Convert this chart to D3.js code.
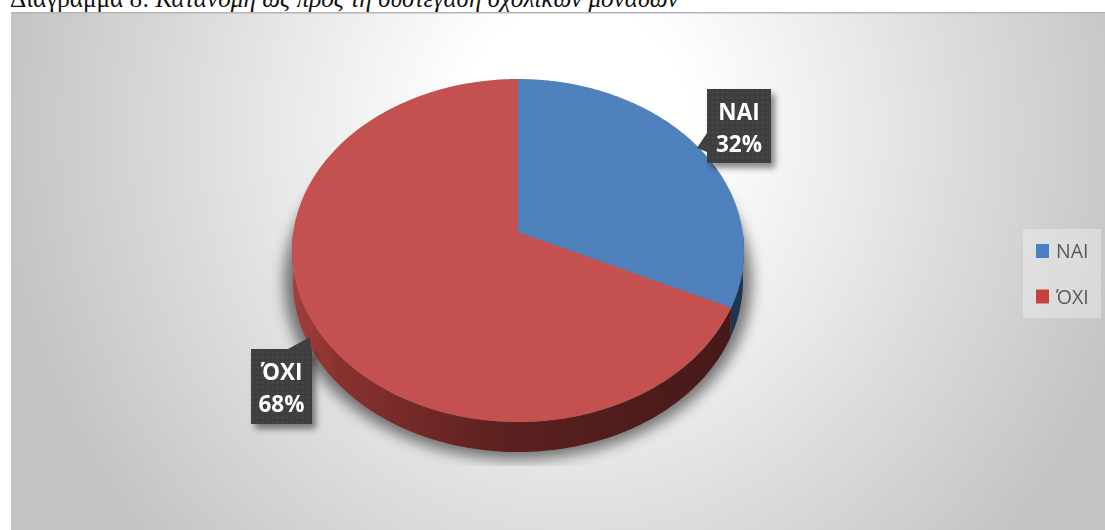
<!DOCTYPE html>
<html lang="el">
<head>
<meta charset="utf-8">
<script src="https://cdn.jsdelivr.net/npm/d3@7/dist/d3.min.js"></script>
<style>
html,body{margin:0;padding:0;background:#fff;overflow:hidden}
svg{display:block}
</style>
</head>
<body>
<svg id="chart" width="1105" height="530"></svg>
<script>
// Share of school units by co-housing status
const categories = ["ΝΑΙ", "ΌΧΙ"];
const shares = [32, 68];
const faceColors = ["#4f81bd", "#c4514f"];
const sideColors = ["#1d3550", "#6b2523"];
const captionLead = "Διάγραμμα 8: ";
const captionRest = "Κατανομή ως προς τη συστέγαση σχολικών μονάδων";

const svg = d3.select("#chart");
const defs = svg.append("defs");

// Tilted-disc projection: the pie's hub sits above the middle of the drawn ellipse
const hub = {x: 518, y: 232};
const R = 224.7, tilt = -0.108, squash = 169.5;
const project = (a, k = 1, dy = 0) => {
  const X = Math.sin(a), Y = -Math.cos(a), w = 1 + tilt * Y;
  return [hub.x + k * R * X / w, hub.y + dy + k * squash * Y / w];
};
const depth = 31, lowerScale = 0.995;

// Backdrop: bright towards the upper middle, greying off to the sides
const bg = defs.append("radialGradient").attr("id", "bg")
  .attr("gradientUnits", "userSpaceOnUse")
  .attr("cx", 0).attr("cy", 0).attr("r", 1)
  .attr("gradientTransform", "translate(575,130) scale(580,620)");
[[0.2, "#ffffff"], [0.5, "#e9e9e9"], [0.65, "#dddddd"], [1, "#c3c3c3"]].forEach(([o, c]) =>
  bg.append("stop").attr("offset", o).attr("stop-color", c));

const blur = (id, s) => defs.append("filter").attr("id", id)
  .attr("x", "-30%").attr("y", "-30%").attr("width", "160%").attr("height", "160%")
  .append("feGaussianBlur").attr("stdDeviation", s);
blur("pieShadow", 7);
blur("tagShadow", 3);
blur("soft", 0.35);

defs.append("clipPath").attr("id", "shadowClip").append("rect")
  .attr("x", 11).attr("y", 12).attr("width", 1094).attr("height", 454);

// Fine dot texture on the callouts
const dots = defs.append("pattern").attr("id", "dots").attr("patternUnits", "userSpaceOnUse")
  .attr("width", 5).attr("height", 5);
dots.append("rect").attr("width", 5).attr("height", 5).attr("fill", "#3e3e3e");
dots.append("circle").attr("cx", 2.5).attr("cy", 2.5).attr("r", 1).attr("fill", "#4c4c4c");

svg.append("rect").attr("x", 11).attr("y", 12).attr("width", 1094).attr("height", 518).attr("fill", "url(#bg)");
svg.append("rect").attr("x", 11).attr("y", 12).attr("width", 1094).attr("height", 1.5).attr("fill", "#b5b5b5");

// Caption, running off the top of the page
const caption = svg.append("text").attr("x", 10).attr("y", 7)
  .attr("font-family", "'Liberation Serif'").attr("font-size", 25.2).attr("fill", "#111");
caption.append("tspan").text(captionLead);
caption.append("tspan").attr("font-style", "italic").text(captionRest);

const slices = d3.pie().sort(null).value(d => d)(shares);
const arcPoints = (a0, a1, k, dy) =>
  d3.range(0, 121).map(i => project(a0 + (a1 - a0) * i / 120, k, dy));
const line = d3.line();

// Soft shadow under the disc, cut off flat below
svg.append("g").attr("clip-path", "url(#shadowClip)").append("path")
  .attr("d", line(arcPoints(0, 2 * Math.PI, 1.035, depth)) + "Z")
  .attr("fill", "#000").attr("opacity", 0.5).attr("filter", "url(#pieShadow)");

// Rim: band between the upper disc and the lowered copy
const rimGrad = defs.append("linearGradient").attr("id", "rim0")
  .attr("gradientUnits", "userSpaceOnUse").attr("x1", 292).attr("x2", 744).attr("y1", 0).attr("y2", 0);
rimGrad.append("stop").attr("offset", 0).attr("stop-color", "#a33f3d");
rimGrad.append("stop").attr("offset", 0.1).attr("stop-color", "#8a312f");
rimGrad.append("stop").attr("offset", 0.45).attr("stop-color", "#5c2120");
rimGrad.append("stop").attr("offset", 1).attr("stop-color", "#441918");

const rim = svg.append("g");
slices.forEach((s, i) => {
  const a0 = Math.max(s.startAngle, Math.PI / 2), a1 = Math.min(s.endAngle, 1.5 * Math.PI);
  const top = arcPoints(a0, a1, 1, 0);
  const low = arcPoints(a0, a1, lowerScale, depth).reverse();
  rim.append("path").attr("d", line(top.concat(low)) + "Z")
    .attr("fill", i === 1 ? "url(#rim0)" : sideColors[i]);
});

// Disc faces
svg.append("g").selectAll("path").data(slices).join("path")
  .attr("d", s => line([[hub.x, hub.y]].concat(arcPoints(s.startAngle, s.endAngle, 1, 0))) + "Z")
  .attr("fill", (s, i) => faceColors[i]);

// Dark callouts with a pointer towards the slice
const tags = [
  {label: categories[0], value: shares[0], x: 707, y: 89, w: 64, h: 74, tip: [697, 148], base: [[707, 133], [707, 152]]},
  {label: categories[1], value: shares[1], x: 251, y: 349, w: 61, h: 75, tip: [310, 337], base: [[288, 349], [311, 349]]}
];
const tagG = svg.append("g").selectAll("g").data(tags).join("g");
tagG.append("rect").attr("x", d => d.x + 4).attr("y", d => d.y + 5)
  .attr("width", d => d.w).attr("height", d => d.h)
  .attr("fill", "#000").attr("opacity", 0.45).attr("filter", "url(#tagShadow)");
tagG.append("path").attr("fill", "#404040")
  .attr("d", d => line([d.base[0], d.tip, d.base[1]]) + "Z");
tagG.append("rect").attr("x", d => d.x).attr("y", d => d.y)
  .attr("width", d => d.w).attr("height", d => d.h).attr("fill", "url(#dots)");
const tagText = tagG.append("text").attr("text-anchor", "middle")
  .attr("font-family", "'Open Sans'").attr("font-weight", 700)
  .attr("font-size", 22.5).attr("fill", "#fff").attr("filter", "url(#soft)");
tagText.append("tspan").attr("x", d => d.x + d.w / 2).attr("y", d => d.y + 31).text(d => d.label);
tagText.append("tspan").attr("x", d => d.x + d.w / 2).attr("y", d => d.y + 63).text(d => d.value + "%");

// Legend
svg.append("rect").attr("x", 1023).attr("y", 229).attr("width", 78).attr("height", 89)
  .attr("fill", "#f2f2f2").attr("opacity", 0.42);
const leg = svg.append("g").selectAll("g").data(categories).join("g")
  .attr("transform", (d, i) => `translate(0,${251 + i * 45.5})`);
leg.append("rect").attr("x", 1036).attr("y", -7).attr("width", 13).attr("height", 14)
  .attr("fill", (d, i) => i ? "#c5403e" : "#4a7fc4");
leg.append("text").attr("x", 1056).attr("y", 7)
  .attr("font-family", "'Open Sans'").attr("font-size", 19.5).attr("fill", "#595959")
  .attr("filter", "url(#soft)").text(d => d);
</script>
</body>
</html>
